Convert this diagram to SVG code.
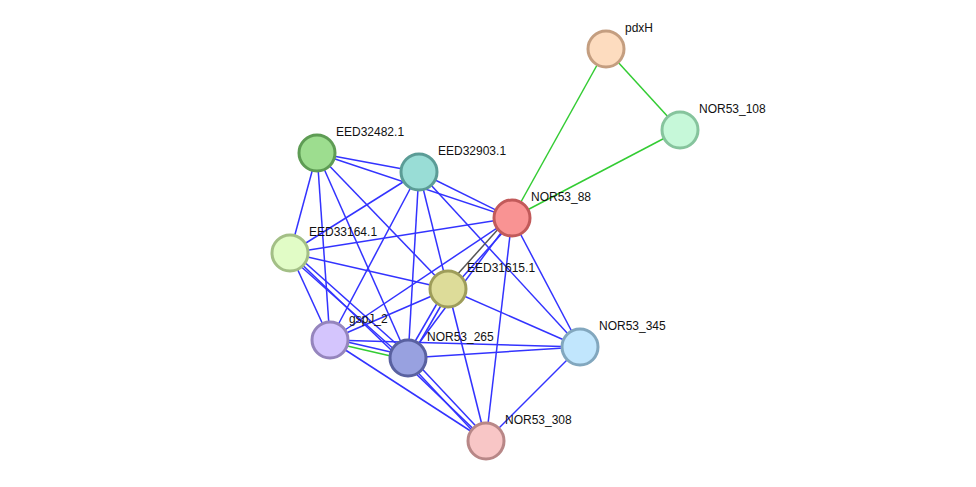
<svg xmlns="http://www.w3.org/2000/svg" width="976" height="487" viewBox="0 0 976 487">
<style>
.b{stroke:#3333ff;stroke-width:1.5;fill:none}
.g{stroke:#33cc33;stroke-width:1.5;fill:none}
.k{stroke:#555;stroke-width:1.5;fill:none}
circle{stroke-width:3}
text{font-family:"Liberation Sans",Arial,sans-serif;font-size:12px;fill:#111}
</style>
<rect width="976" height="487" fill="#fff"/>
<g id="edges">
<line class="g" x1="606" y1="49" x2="680" y2="130"/>
<line class="g" x1="606" y1="49" x2="512" y2="218"/>
<line class="g" x1="680" y1="130" x2="512" y2="218"/>
<line class="b" x1="317" y1="153" x2="419" y2="172"/>
<line class="b" x1="317" y1="153" x2="512" y2="218"/>
<line class="b" x1="317" y1="153" x2="290" y2="253"/>
<line class="b" x1="317" y1="153" x2="330" y2="340"/>
<line class="b" x1="317" y1="153" x2="408" y2="358"/>
<line class="b" x1="317" y1="153" x2="448" y2="289"/>
<line class="b" x1="419" y1="172" x2="512" y2="218"/>
<line class="b" x1="419" y1="172" x2="290" y2="253"/>
<line class="b" x1="419" y1="172" x2="330" y2="340"/>
<line class="b" x1="419" y1="172" x2="408" y2="358"/>
<line class="b" x1="419" y1="172" x2="448" y2="289"/>
<line class="b" x1="419" y1="172" x2="580" y2="347"/>
<line class="b" x1="512" y1="218" x2="290" y2="253"/>
<line class="k" x1="510" y1="216" x2="446" y2="287"/>
<line class="b" x1="514" y1="220" x2="450" y2="291"/>
<line class="b" x1="512" y1="218" x2="330" y2="340"/>
<line class="b" x1="512" y1="218" x2="408" y2="358"/>
<line class="b" x1="512" y1="218" x2="580" y2="347"/>
<line class="b" x1="512" y1="218" x2="486" y2="441"/>
<line class="b" x1="290" y1="253" x2="448" y2="289"/>
<line class="b" x1="290" y1="253" x2="330" y2="340"/>
<line class="b" x1="292" y1="251" x2="410" y2="356"/>
<line class="b" x1="288" y1="255" x2="406" y2="360"/>
<line class="b" x1="290" y1="253" x2="486" y2="441"/>
<line class="b" x1="448" y1="289" x2="330" y2="340"/>
<line class="b" x1="446" y1="288" x2="406" y2="357"/>
<line class="b" x1="450" y1="290" x2="410" y2="359"/>
<line class="b" x1="448" y1="289" x2="580" y2="347"/>
<line class="b" x1="448" y1="289" x2="486" y2="441"/>
<line class="b" x1="330" y1="338" x2="408" y2="356"/>
<line class="g" x1="330" y1="342" x2="408" y2="360"/>
<line class="b" x1="330" y1="340" x2="580" y2="347"/>
<line class="b" x1="330" y1="340" x2="486" y2="441"/>
<line class="b" x1="408" y1="358" x2="580" y2="347"/>
<line class="b" x1="406" y1="360" x2="484" y2="443"/>
<line class="b" x1="410" y1="356" x2="488" y2="439"/>
<line class="b" x1="580" y1="347" x2="486" y2="441"/>
</g>
<g id="pdxH"><circle cx="606" cy="49" r="18" fill="#fddcbf" stroke="#c49e80"/><text x="625" y="32">pdxH</text></g>
<g id="NOR53_108"><circle cx="680" cy="130" r="18" fill="#c6f8d9" stroke="#86c49d"/><text x="699" y="113">NOR53_108</text></g>
<g id="NOR53_88"><circle cx="512" cy="218" r="18" fill="#f99393" stroke="#c25a5a"/><text x="531" y="201">NOR53_88</text></g>
<g id="EED32482.1"><circle cx="317" cy="153" r="18" fill="#9ddd8f" stroke="#5e9c54"/><text x="336" y="136">EED32482.1</text></g>
<g id="EED32903.1"><circle cx="419" cy="172" r="18" fill="#99ddd6" stroke="#5b9c96"/><text x="438" y="155">EED32903.1</text></g>
<g id="EED33164.1"><circle cx="290" cy="253" r="18" fill="#e1fcc6" stroke="#a3bf86"/><text x="309" y="236">EED33164.1</text></g>
<g id="EED31615.1"><circle cx="448" cy="289" r="18" fill="#dddc99" stroke="#9e9d5a"/><text x="467" y="272">EED31615.1</text></g>
<g id="gspJ_2"><circle cx="330" cy="340" r="18" fill="#d4c5fd" stroke="#9585bd"/><text x="349" y="323">gspJ_2</text></g>
<g id="NOR53_265"><circle cx="408" cy="358" r="18" fill="#98a1e0" stroke="#5961a0"/><text x="427" y="341">NOR53_265</text></g>
<g id="NOR53_345"><circle cx="580" cy="347" r="18" fill="#c1e6fd" stroke="#82a7be"/><text x="599" y="330">NOR53_345</text></g>
<g id="NOR53_308"><circle cx="486" cy="441" r="18" fill="#f8c6c6" stroke="#b88787"/><text x="505" y="424">NOR53_308</text></g>
</svg>
